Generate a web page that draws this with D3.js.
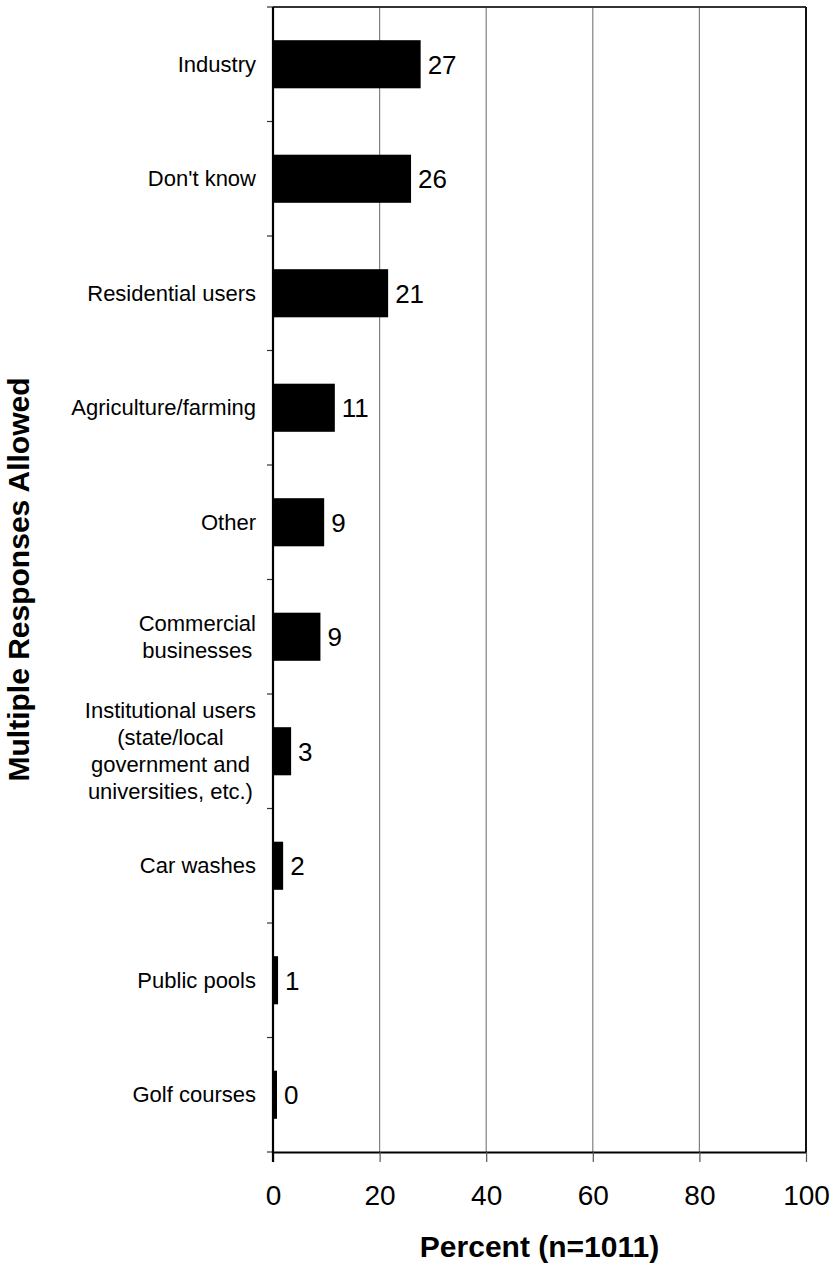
<!DOCTYPE html>
<html>
<head>
<meta charset="utf-8">
<script src="https://cdn.jsdelivr.net/npm/d3@7"></script>
<style>
  html, body { margin: 0; padding: 0; background: #fff; }
  svg { display: block; font-family: "Liberation Sans", Arial, sans-serif; }
</style>
</head>
<body>
<svg id="chart" width="831" height="1265"></svg>
<script>
// ---- data ----
const categories = [
  "Industry",
  "Don't know",
  "Residential users",
  "Agriculture/farming",
  "Other",
  "Commercial businesses",
  "Institutional users (state/local government and universities, etc.)",
  "Car washes",
  "Public pools",
  "Golf courses"
];
const categoryLines = [
  ["Industry"],
  ["Don't know"],
  ["Residential users"],
  ["Agriculture/farming"],
  ["Other"],
  ["Commercial", "businesses"],
  ["Institutional users", "(state/local", "government and", "universities, etc.)"],
  ["Car washes"],
  ["Public pools"],
  ["Golf courses"]
];
const values = [27.7, 25.9, 21.6, 11.6, 9.6, 8.9, 3.4, 1.9, 0.95, 0.75];
const valueLabels = ["27", "26", "21", "11", "9", "9", "3", "2", "1", "0"];
const xTicks = [0, 20, 40, 60, 80, 100];
const xTitle = "Percent (n=1011)";
const yTitle = "Multiple Responses Allowed";

// ---- layout ----
const W = 831, H = 1265;
const margin = { top: 7, right: 25, bottom: 113, left: 273 };
const iw = W - margin.left - margin.right;
const ih = H - margin.top - margin.bottom;

const svg = d3.select("#chart");
const g = svg.append("g").attr("transform", `translate(${margin.left},${margin.top})`);

const x = d3.scaleLinear().domain([0, 100]).range([0, iw]);
const y = d3.scaleBand().domain(categories).range([0, ih])
  .paddingInner(0.58).paddingOuter(0.29);

// gridlines
g.append("g").selectAll("line")
  .data(xTicks.filter(t => t > 0 && t < 100))
  .join("line")
  .attr("x1", d => x(d)).attr("x2", d => x(d))
  .attr("y1", 0).attr("y2", ih)
  .attr("stroke", "#808080").attr("stroke-width", 1.2);

// plot border (top & right)
g.append("line").attr("x1", 0).attr("x2", iw).attr("y1", 0).attr("y2", 0)
  .attr("stroke", "#333").attr("stroke-width", 2);
g.append("line").attr("x1", iw).attr("x2", iw).attr("y1", 0).attr("y2", ih)
  .attr("stroke", "#111").attr("stroke-width", 2);

// bars
g.append("g").selectAll("rect")
  .data(categories)
  .join("rect")
  .attr("x", 0)
  .attr("y", d => y(d))
  .attr("width", (d, i) => x(values[i]))
  .attr("height", y.bandwidth())
  .attr("fill", "#000");

// value labels
g.append("g").selectAll("text")
  .data(categories)
  .join("text")
  .attr("x", (d, i) => x(values[i]) + 7)
  .attr("y", d => y(d) + y.bandwidth() / 2)
  .attr("dy", "0.36em")
  .attr("font-size", 26)
  .attr("fill", "#000")
  .text((d, i) => valueLabels[i]);

// x axis
const xAxis = g.append("g")
  .attr("transform", `translate(0,${ih})`)
  .call(d3.axisBottom(x).tickValues(xTicks).tickSize(10).tickPadding(23).tickSizeOuter(0));
xAxis.select(".domain").attr("stroke", "#000").attr("stroke-width", 2.2);
xAxis.selectAll(".tick line").attr("stroke", "#555").attr("stroke-width", 1.2);
xAxis.selectAll(".tick text").attr("font-size", 28).attr("fill", "#000")
  .attr("font-family", "Liberation Sans, Arial, sans-serif");

// y axis line and boundary ticks
const step = y.step();
const offset = (step - y.bandwidth()) / 2;
const boundaries = categories.map(c => y(c) - offset).concat([ih]);
g.append("g").selectAll("line")
  .data(boundaries)
  .join("line")
  .attr("x1", -6).attr("x2", 0)
  .attr("y1", d => d).attr("y2", d => d)
  .attr("stroke", "#333").attr("stroke-width", 1.2);
g.append("line").attr("x1", 0).attr("x2", 0).attr("y1", 0).attr("y2", ih + 10)
  .attr("stroke", "#000").attr("stroke-width", 2.2);

// category labels
const labelRight = -17;
const lineH = 27;
const catG = g.append("g");
categoryLines.forEach((lines, i) => {
  const cy = y(categories[i]) + y.bandwidth() / 2;
  const t = catG.append("text")
    .attr("font-size", 22)
    .attr("fill", "#000")
    .attr("text-anchor", "middle");
  const n = lines.length;
  const spans = lines.map((ln, k) => t.append("tspan")
    .attr("y", cy + (k - (n - 1) / 2) * lineH)
    .attr("dy", "0.35em")
    .text(ln));
  let maxW = 0;
  spans.forEach(s => { maxW = Math.max(maxW, s.node().getComputedTextLength()); });
  spans.forEach(s => s.attr("x", labelRight - maxW / 2));
});

// axis titles
svg.append("text")
  .attr("x", margin.left + iw / 2)
  .attr("y", 1257)
  .attr("text-anchor", "middle")
  .attr("font-size", 30)
  .attr("font-weight", "bold")
  .attr("fill", "#000")
  .text(xTitle);

svg.append("text")
  .attr("transform", `translate(29,${margin.top + ih / 2}) rotate(-90)`)
  .attr("text-anchor", "middle")
  .attr("font-size", 30)
  .attr("font-weight", "bold")
  .attr("fill", "#000")
  .text(yTitle);
</script>
</body>
</html>
